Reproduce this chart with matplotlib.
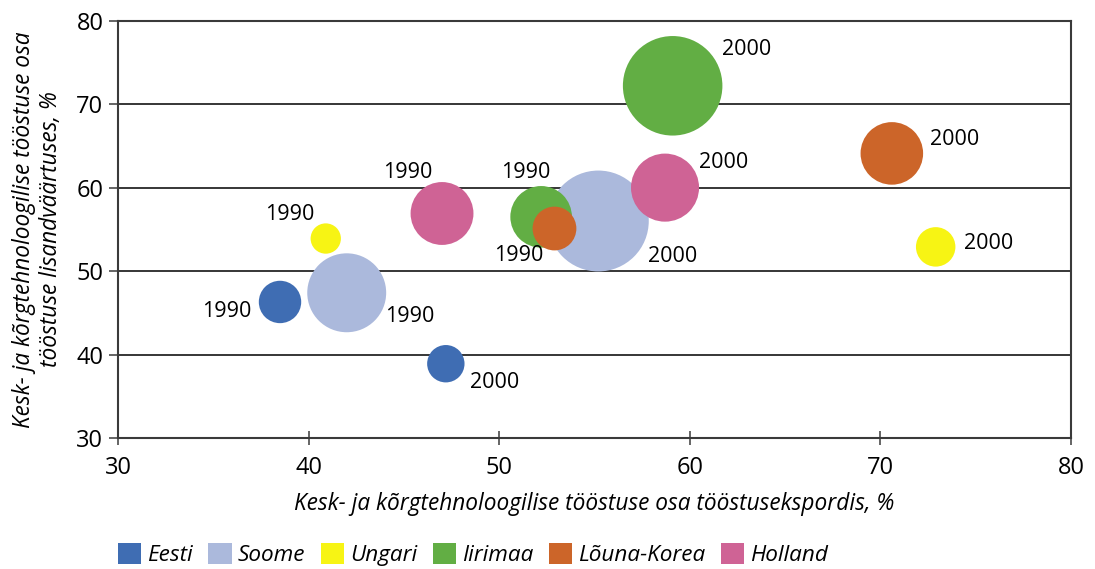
"""
Bubble chart: medium- and high-tech industry share in exports vs value added.
"""

import matplotlib.pyplot as plt
from matplotlib.patches import Patch

countries = ["Eesti", "Soome", "Ungari", "Iirimaa", "Lõuna-Korea", "Holland"]
colors = ["#3f6db3", "#abb9dc", "#f7f414", "#62ae44", "#cc6529", "#cf6395"]

# x: share in industrial exports, y: share in industrial value added, size: bubble value
export_1990 = [38.5, 42.0, 40.9, 52.2, 52.9, 47.0]
value_added_1990 = [46.3, 47.4, 53.9, 56.5, 55.1, 56.9]
size_1990 = [45, 156, 23, 95, 48, 99]

export_2000 = [47.2, 55.2, 72.9, 59.1, 70.6, 58.7]
value_added_2000 = [38.9, 56.0, 52.9, 72.2, 64.1, 60.0]
size_2000 = [35, 255, 39, 248, 98, 116]

years = ["1990", "2000"]

# label offsets from bubble centre, in pixels (dx right, dy down)
offsets_1990 = [(-53, 10), (63, 24), (-36, -24), (-15, -44), (-36, 27), (-34, -41)]
offsets_2000 = [(49, 19), (74, 35), (53, -3), (74, -36), (63, -14), (59, -25)]

FONT = "Open Sans"
plt.rcParams["font.family"] = [FONT, "DejaVu Sans"]

fig = plt.figure(figsize=(10.95, 5.69), dpi=100)
ax = fig.add_axes([118 / 1095, 1 - 438 / 569, 953 / 1095, 417.3 / 569])

# Soome first so the other bubbles sit on top of it
draw_order = [1, 0, 2, 3, 4, 5]
px = 0.72  # points per pixel at 100 dpi
for i in draw_order:
    ax.scatter(
        [export_1990[i], export_2000[i]],
        [value_added_1990[i], value_added_2000[i]],
        s=[size_1990[i] * 20.7, size_2000[i] * 20.7],
        color=colors[i],
        linewidths=0,
        zorder=3,
    )

for i in range(len(countries)):
    pts = [
        (export_1990[i], value_added_1990[i], offsets_1990[i], years[0]),
        (export_2000[i], value_added_2000[i], offsets_2000[i], years[1]),
    ]
    for x, y, (dx, dy), label in pts:
        ax.annotate(
            label,
            (x, y),
            xytext=(dx * px, -dy * px),
            textcoords="offset points",
            ha="center",
            va="center",
            fontsize=15.5,
            color="black",
            zorder=4,
        )

ax.set_xlim(30, 80)
ax.set_ylim(30, 80)
ax.set_xticks(range(30, 81, 10))
ax.set_yticks(range(30, 81, 10))
ax.yaxis.grid(True, color="black", linewidth=1.1)
ax.set_axisbelow(True)

for spine in ax.spines.values():
    spine.set_color("#3a3a3a")
    spine.set_linewidth(1.5)

ax.tick_params(axis="x", direction="inout", length=10, width=1.1, pad=8,
               labelsize=17, colors="#3a3a3a", labelcolor="black")
ax.tick_params(axis="y", direction="out", length=6.5, width=1.1, pad=4,
               labelsize=17, colors="#3a3a3a", labelcolor="black")

ax.set_xlabel("Kesk- ja kõrgtehnoloogilise tööstuse osa tööstusekspordis, %",
              fontsize=16.3, style="italic")
ax.xaxis.set_label_coords(0.5, -0.13)
ax.set_ylabel("Kesk- ja kõrgtehnoloogilise tööstuse osa\ntööstuse lisandväärtuses, %",
              fontsize=16.3, style="italic", linespacing=1.15)
ax.yaxis.set_label_coords(-0.058, 0.5)

handles = [Patch(facecolor=c, edgecolor="none", label=n) for n, c in zip(countries, colors)]
fig.legend(
    handles=handles,
    loc="lower left",
    bbox_to_anchor=(118 / 1095, 3 / 569),
    ncol=6,
    frameon=False,
    prop={"size": 16.2, "style": "italic"},
    handlelength=1.04,
    handleheight=1.04,
    handletextpad=0.27,
    columnspacing=0.68,
    borderpad=0,
    borderaxespad=0,
)

fig.savefig("out.png", dpi=100)
